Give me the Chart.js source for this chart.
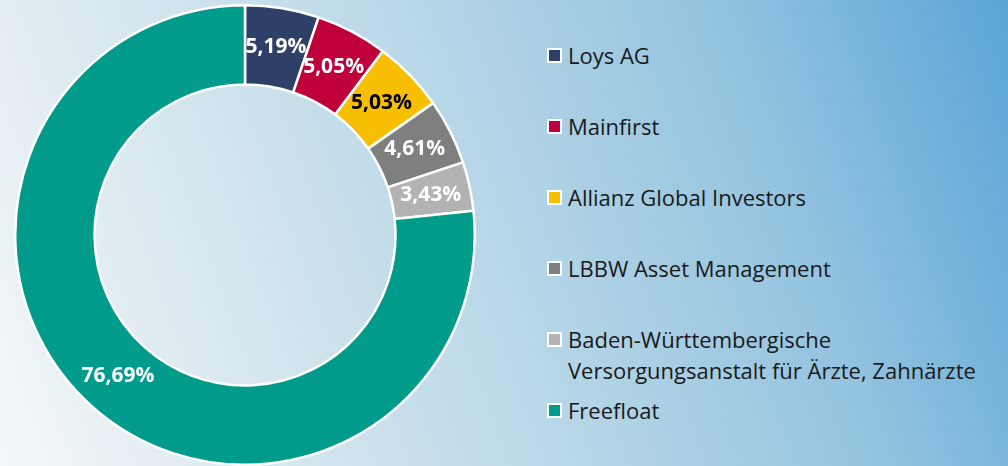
<!DOCTYPE html>
<html>
<head>
<meta charset="utf-8">
<script src="https://cdn.jsdelivr.net/npm/chart.js@4"></script>
<style>
  html, body { margin: 0; padding: 0; }
  body {
    width: 1008px; height: 466px; overflow: hidden; position: relative;
    background: linear-gradient(70deg, #f4f7f9 0%, #d6e6ee 25%, #b6d6e7 50%, #93c3df 75%, #5aa5d6 100%);
    font-family: "Open Sans", Lato, sans-serif;
  }
  #chart-box { position: absolute; left: 14px; top: 4px; width: 462px; height: 462px; }
  #legend { position: absolute; left: 547px; top: 39.5px; color: #1a1a1a; font-size: 22px; line-height: 31px; }
  .item { display: flex; align-items: flex-start; margin-bottom: 40px; }
  .item.tight { margin-bottom: 9px; }
  .swatch { width: 11px; height: 11px; border: 2.5px solid #fff; margin: 8px 6px 0 0; flex: none; }
</style>
</head>
<body>
<div id="chart-box"><canvas id="chart-shareholders"></canvas></div>
<div id="legend"></div>
<script>
const holders = ['Loys AG', 'Mainfirst', 'Allianz Global Investors', 'LBBW Asset Management',
  'Baden-Württembergische|Versorgungsanstalt für Ärzte, Zahnärzte', 'Freefloat'];
const shares = [5.19, 5.05, 5.03, 4.61, 3.43, 76.69];
const shareLabels = ['5,19%', '5,05%', '5,03%', '4,61%', '3,43%', '76,69%'];
const colors = ['#2e4068', '#c0003a', '#f8bf00', '#7f7f7f', '#b3b3b3', '#009b8b'];

function shareholderChart() {
  let labelColors = ['#fff', '#fff', '#000', '#fff', '#fff', '#fff'];

  let sliceLabels = {
    id: 'sliceLabels',
    afterDatasetsDraw(chart) {
      let ctx = chart.ctx;
      ctx.save();
      ctx.font = 'bold 21px "Open Sans", Lato, sans-serif';
      ctx.textAlign = 'center';
      ctx.textBaseline = 'middle';
      chart.getDatasetMeta(0).data.forEach((arc, i) => {
        let p = arc.tooltipPosition();
        ctx.fillStyle = labelColors[i];
        ctx.fillText(shareLabels[i], p.x, p.y);
      });
      ctx.restore();
    }
  };

  new Chart(document.getElementById('chart-shareholders'), {
    type: 'doughnut',
    data: {
      labels: holders.map(h => h.replace('|', ' ')),
      datasets: [{ data: shares, backgroundColor: colors, borderColor: '#fff', borderWidth: 2.5 }]
    },
    options: {
      responsive: true,
      maintainAspectRatio: false,
      animation: false,
      cutout: '65.5%',
      layout: { padding: 0 },
      plugins: { legend: { display: false }, tooltip: { enabled: false } }
    },
    plugins: [sliceLabels]
  });

  let legend = document.getElementById('legend');
  holders.forEach((h, i) => {
    let item = document.createElement('div');
    item.className = 'item' + (h.includes('|') ? ' tight' : '');
    item.innerHTML = '<span class="swatch" style="background:' + colors[i] + '"></span><span>' +
      h.split('|').join('<br>') + '</span>';
    legend.appendChild(item);
  });
}

shareholderChart();
</script>
</body>
</html>
